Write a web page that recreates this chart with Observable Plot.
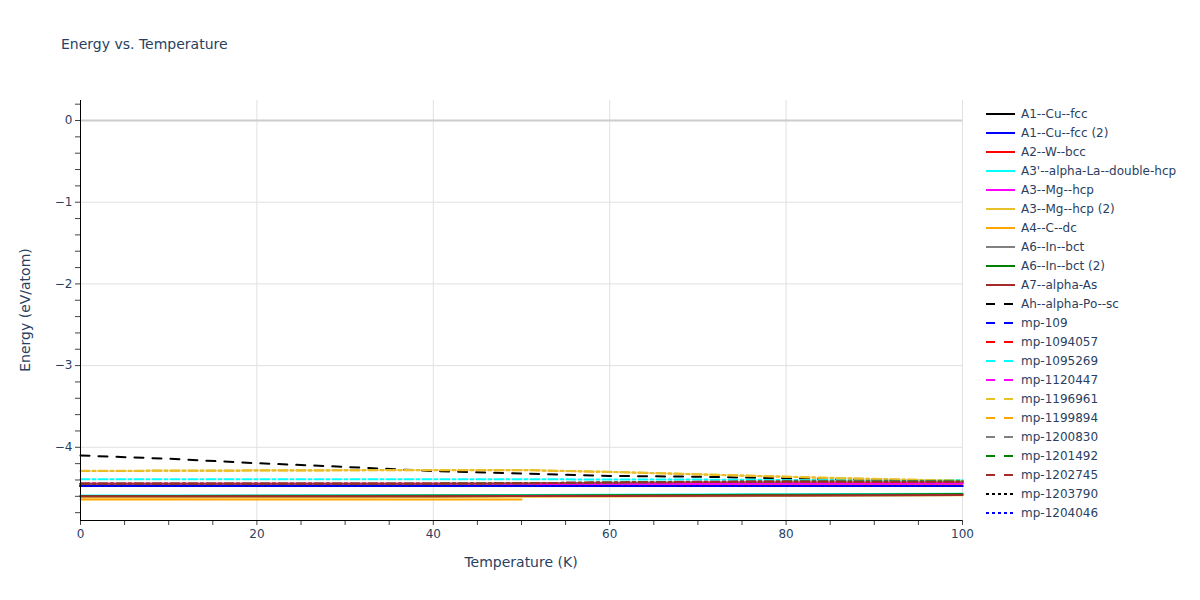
<!DOCTYPE html>
<html>
<head>
<meta charset="utf-8">
<script src="https://cdn.jsdelivr.net/npm/d3@7"></script>
<script src="https://cdn.jsdelivr.net/npm/@observablehq/plot@0.6"></script>
<style>
  body { margin: 0; background: #fff; }
  #wrap { position: relative; width: 1200px; height: 600px; font-family: "DejaVu Sans", verdana, arial, sans-serif; color: #2a3f5f; }
  #wrap svg.plot { position: absolute; left: 0; top: 0; }
  .title { position: absolute; left: 61px; top: 36px; font-size: 14px; white-space: nowrap; }
  .xtitle { position: absolute; left: 371px; width: 300px; top: 554px; text-align: center; font-size: 14px; }
  .ytitle { position: absolute; left: 25px; top: 310px; font-size: 14px; white-space: nowrap; transform: translate(-50%, -50%) rotate(-90deg); }
  #legend { position: absolute; left: 985px; top: 104.5px; font-size: 12px; }
  .item { height: 19px; display: flex; align-items: center; white-space: nowrap; }
  .item svg { width: 36px; height: 12px; }
</style>
</head>
<body>
<div id="wrap">
  <div class="title">Energy vs. Temperature</div>
  <div class="xtitle">Temperature (K)</div>
  <div class="ytitle">Energy (eV/atom)</div>
  <div id="legend"></div>
</div>
<script>
// ---- data ----
const temps = [0, 10, 20, 30, 40, 50, 60, 70, 80, 90, 100];
const tempsC = [0, 10, 20, 30, 40, 50];

const seriesNames = [
  "A1--Cu--fcc", "A1--Cu--fcc (2)", "A2--W--bcc", "A3'--alpha-La--double-hcp",
  "A3--Mg--hcp", "A3--Mg--hcp (2)", "A4--C--dc", "A6--In--bct", "A6--In--bct (2)",
  "A7--alpha-As", "Ah--alpha-Po--sc", "mp-109", "mp-1094057", "mp-1095269",
  "mp-1120447", "mp-1196961", "mp-1199894", "mp-1200830", "mp-1201492",
  "mp-1202745", "mp-1203790", "mp-1204046"
];
const seriesColors = [
  "black", "blue", "red", "cyan", "magenta", "#e6c12a", "orange", "gray", "green",
  "brown", "black", "blue", "red", "cyan", "magenta", "#e6c12a", "orange", "gray",
  "green", "brown", "black", "blue"
];
// style shown in the legend
const seriesDash = [
  "solid", "solid", "solid", "solid", "solid", "solid", "solid", "solid", "solid",
  "solid", "dash", "dash", "dash", "dash", "dash", "dash", "dash", "dash", "dash",
  "dash", "dot", "dot"
];
// style as it appears along the plotted line
const seriesLineDash = [
  "solid", "solid", "solid", "solid", "solid", "solid", "solid", "solid", "solid",
  "solid", "dash", "dashdot", "dashdot", "dashdot", "dashdot", "dashdot", "dashdot",
  "dashdot", "dashdot", "dashdot", "dot", "dot"
];
// drawing order (legend index), lower ones first
const drawOrder = [0, 1, 2, 3, 4, 5, 6, 7, 8, 9, 10, 11, 12, 13, 14, 16, 15, 17, 18, 19, 20, 21];

const cuFcc      = [-4.475, -4.475, -4.475, -4.475, -4.475, -4.475, -4.475, -4.475, -4.475, -4.475, -4.475];
const cuFcc2     = [-4.475, -4.475, -4.475, -4.475, -4.475, -4.475, -4.475, -4.475, -4.475, -4.475, -4.475];
const wBcc       = [-4.445, -4.445, -4.445, -4.445, -4.445, -4.445, -4.445, -4.445, -4.445, -4.445, -4.445];
const laDhcp     = [-4.590, -4.590, -4.589, -4.588, -4.586, -4.584, -4.581, -4.578, -4.575, -4.572, -4.568];
const mgHcp      = [-4.445, -4.445, -4.445, -4.445, -4.445, -4.445, -4.445, -4.444, -4.443, -4.442, -4.441];
const mgHcp2     = [-4.615, -4.614, -4.612, -4.610, -4.607, -4.604, -4.601, -4.598, -4.595, -4.591, -4.587];
const cDc        = [-4.640, -4.640, -4.640, -4.640, -4.640, -4.640];
const inBct      = [-4.600, -4.600, -4.600, -4.599, -4.598, -4.596, -4.594, -4.592, -4.589, -4.586, -4.583];
const inBct2     = [-4.595, -4.595, -4.594, -4.593, -4.591, -4.589, -4.586, -4.583, -4.580, -4.577, -4.573];
const asAlpha    = [-4.600, -4.600, -4.600, -4.599, -4.598, -4.597, -4.595, -4.593, -4.590, -4.587, -4.584];
const poSc       = [-4.100, -4.140, -4.195, -4.240, -4.290, -4.320, -4.350, -4.360, -4.380, -4.400, -4.410];
const mp109      = [-4.475, -4.475, -4.475, -4.475, -4.475, -4.475, -4.475, -4.475, -4.475, -4.475, -4.475];
const mp1094057  = [-4.445, -4.445, -4.445, -4.445, -4.445, -4.445, -4.440, -4.435, -4.430, -4.430, -4.430];
const mp1095269  = [-4.390, -4.390, -4.390, -4.390, -4.390, -4.390, -4.395, -4.395, -4.400, -4.400, -4.400];
const mp1120447  = [-4.445, -4.445, -4.445, -4.445, -4.445, -4.445, -4.445, -4.445, -4.440, -4.440, -4.440];
const mp1196961  = [-4.287, -4.285, -4.282, -4.280, -4.277, -4.277, -4.300, -4.330, -4.360, -4.385, -4.410];
const mp1199894  = [-4.290, -4.288, -4.285, -4.282, -4.280, -4.280, -4.302, -4.332, -4.362, -4.390, -4.412];
const mp1200830  = [-4.445, -4.445, -4.445, -4.445, -4.445, -4.440, -4.430, -4.420, -4.410, -4.410, -4.415];
const mp1201492  = [-4.445, -4.445, -4.445, -4.445, -4.445, -4.440, -4.430, -4.425, -4.420, -4.420, -4.420];
const mp1202745  = [-4.445, -4.445, -4.445, -4.445, -4.445, -4.440, -4.430, -4.425, -4.420, -4.425, -4.425];
const mp1203790  = [-4.475, -4.475, -4.475, -4.475, -4.475, -4.475, -4.475, -4.475, -4.475, -4.475, -4.475];
const mp1204046  = [-4.475, -4.475, -4.475, -4.475, -4.475, -4.475, -4.475, -4.475, -4.475, -4.475, -4.475];

const seriesValues = [
  cuFcc, cuFcc2, wBcc, laDhcp, mgHcp, mgHcp2, cDc, inBct, inBct2, asAlpha, poSc,
  mp109, mp1094057, mp1095269, mp1120447, mp1196961, mp1199894, mp1200830,
  mp1201492, mp1202745, mp1203790, mp1204046
];

const xTicks = d3.range(0, 101, 5);
const yTicks = d3.range(-24, 2).map(i => i / 5);

// ---- build ----
const dashArray = {solid: null, dash: "9,9", dot: "3,3", dashdot: "9,3,3,3"};
const fmtInt = d => {
  const r = Math.round(d);
  if (Math.abs(d - r) > 1e-6) return "";
  return r < 0 ? "\u2212" + Math.abs(r) : String(r);
};

const lineMarks = drawOrder.map(i => {
  const vals = seriesValues[i];
  const ts = vals.length === temps.length ? temps : tempsC;
  const data = vals.map((v, j) => ({t: ts[j], e: v}));
  return Plot.line(data, {
    x: "t", y: "e", stroke: seriesColors[i], strokeWidth: 2,
    strokeDasharray: dashArray[seriesLineDash[i]] || undefined
  });
});

const yMin = -4.896, yMax = 0.245;

const chart = Plot.plot({
  width: 1200, height: 600,
  marginLeft: 80, marginRight: 238, marginTop: 100, marginBottom: 80,
  x: {domain: [0, 100]},
  y: {domain: [yMin, yMax]},
  style: {fontFamily: '"DejaVu Sans", verdana, arial, sans-serif', fontSize: "12px", color: "#2a3f5f", background: "white"},
  marks: [
    Plot.ruleX([20, 40, 60, 80, 100], {stroke: "#e1e1e1", strokeWidth: 1}),
    Plot.ruleY([-4, -3, -2, -1], {stroke: "#e1e1e1", strokeWidth: 1}),
    Plot.ruleY([0], {stroke: "#cccccc", strokeWidth: 2}),
    ...lineMarks,
    Plot.axisX({ticks: xTicks, tickFormat: d => (d % 20 === 0 ? String(d) : ""), tickSize: 5, tickPadding: 4,
      stroke: "#444", fill: "#2a3f5f", fontSize: 12, label: null, anchor: "bottom"}),
    Plot.axisY({ticks: yTicks, tickFormat: fmtInt, tickSize: 5, tickPadding: 3,
      stroke: "#444", fill: "#2a3f5f", fontSize: 12, label: null, anchor: "left"}),
    Plot.ruleX([0], {stroke: "black", strokeWidth: 1}),
    Plot.ruleY([yMin], {stroke: "black", strokeWidth: 1})
  ]
});
chart.classList.add("plot");
document.getElementById("wrap").prepend(chart);

// ---- legend ----
const legend = document.getElementById("legend");
seriesNames.forEach((name, i) => {
  const item = document.createElement("div");
  item.className = "item";
  const da = dashArray[seriesDash[i]];
  item.innerHTML = `<svg><line x1="1" x2="30" y1="6" y2="6" stroke="${seriesColors[i]}" stroke-width="2" ${da ? `stroke-dasharray="${da}"` : ""}/></svg><span></span>`;
  item.querySelector("span").textContent = name;
  legend.appendChild(item);
});
</script>
</body>
</html>
